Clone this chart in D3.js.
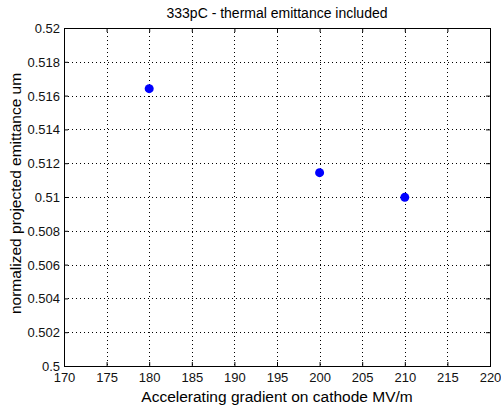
<!DOCTYPE html>
<html>
<head>
<meta charset="utf-8">
<script src="https://cdn.jsdelivr.net/npm/d3@7"></script>
<style>
  body { margin: 0; background: #fff; }
  svg { display: block; font-family: "Liberation Sans", Arial, sans-serif; }
  .tick text { fill: #111; font-size: 13px; }
</style>
</head>
<body>
<div id="chart"></div>
<script>
// Chart data
const gradients = [180, 200, 210];
const emittance = [0.51641, 0.51144, 0.50998];
const xTicks = [170, 175, 180, 185, 190, 195, 200, 205, 210, 215, 220];
const yTicks = [0.5, 0.502, 0.504, 0.506, 0.508, 0.51, 0.512, 0.514, 0.516, 0.518, 0.52];

const width = 501;
const height = 409;
const margin = { top: 28, right: 11, bottom: 43, left: 64 };
const innerW = width - margin.left - margin.right;
const innerH = height - margin.top - margin.bottom;

const svg = d3.select('#chart')
    .append('svg')
    .attr('width', width)
    .attr('height', height);

const g = svg.append('g')
    .attr('transform', `translate(${margin.left},${margin.top})`);

const x = d3.scaleLinear().domain([170, 220]).range([0, innerW]);
const y = d3.scaleLinear().domain([0.5, 0.52]).range([innerH, 0]);

// Dotted grid
g.append('g')
    .selectAll('line')
    .data(xTicks.slice(1, -1))
    .enter()
    .append('line')
    .attr('x1', d => Math.round(x(d)) + 0.5)
    .attr('x2', d => Math.round(x(d)) + 0.5)
    .attr('y1', 0)
    .attr('y2', innerH)
    .attr('stroke', '#000')
    .attr('stroke-width', 1)
    .attr('stroke-dasharray', '1,3');

g.append('g')
    .selectAll('line')
    .data(yTicks.slice(1, -1))
    .enter()
    .append('line')
    .attr('y1', d => Math.round(y(d)) + 0.5)
    .attr('y2', d => Math.round(y(d)) + 0.5)
    .attr('x1', 0)
    .attr('x2', innerW)
    .attr('stroke', '#000')
    .attr('stroke-width', 1)
    .attr('stroke-dasharray', '1,3');

// Axes with inward ticks
const xAxis = d3.axisBottom(x).tickValues(xTicks).tickSize(-4)
    .tickFormat(d3.format('d'));
const yAxis = d3.axisLeft(y).tickValues(yTicks).tickSize(-4).tickPadding(4)
    .tickFormat(d => String(+d.toFixed(3)));

const xg = g.append('g').attr('transform', `translate(0,${innerH})`).call(xAxis);
const yg = g.append('g').call(yAxis);

g.append('g').call(d3.axisTop(x).tickValues(xTicks).tickSize(-4).tickFormat(''));
g.append('g').attr('transform', `translate(${innerW},0)`)
    .call(d3.axisRight(y).tickValues(yTicks).tickSize(-4).tickFormat(''));

g.selectAll('.domain').remove();
g.selectAll('.tick line').attr('stroke', '#000');

// Frame
g.append('rect')
    .attr('x', 0.5)
    .attr('y', 0.5)
    .attr('width', innerW)
    .attr('height', innerH)
    .attr('fill', 'none')
    .attr('stroke', '#000');

xg.selectAll('.tick text').attr('y', 16).attr('dy', 0);
yg.selectAll('.tick text').attr('dy', '0.35em');

// Points
g.append('g')
    .selectAll('circle')
    .data(gradients)
    .enter()
    .append('circle')
    .attr('cx', d => x(d))
    .attr('cy', (d, i) => y(emittance[i]))
    .attr('r', 4.5)
    .attr('fill', '#0000ff');

// Title and labels
svg.append('text')
    .attr('x', margin.left + innerW / 2)
    .attr('y', 18)
    .attr('text-anchor', 'middle')
    .style('font-size', '14px')
    .attr('fill', '#000')
    .text('333pC - thermal emittance included');

svg.append('text')
    .attr('x', margin.left + innerW / 2)
    .attr('y', 402)
    .attr('text-anchor', 'middle')
    .style('font-size', '15.5px')
    .attr('fill', '#000')
    .text('Accelerating gradient on cathode MV/m');

svg.append('text')
    .attr('transform', `translate(21,${margin.top + innerH / 2 - 3.5}) rotate(-90)`)
    .attr('text-anchor', 'middle')
    .style('font-size', '15.5px')
    .attr('fill', '#000')
    .text('normalized projected emittance um');
</script>
</body>
</html>
